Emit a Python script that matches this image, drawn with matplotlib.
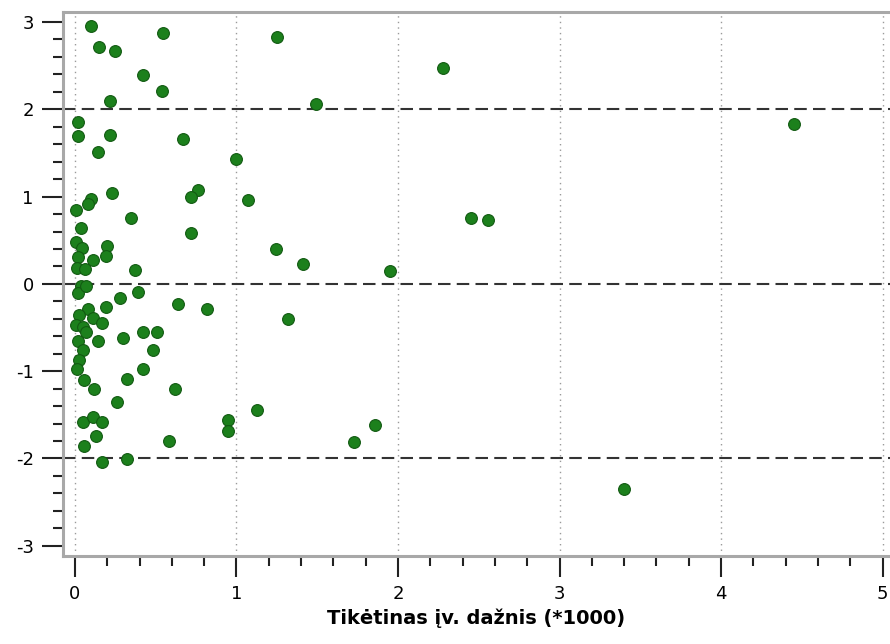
import numpy as np
import matplotlib
matplotlib.use('Agg')
import matplotlib.pyplot as plt
from matplotlib.ticker import MultipleLocator

plt.rcParams['axes.unicode_minus'] = False

# Expected frequency (*1000) and residual values
freq = [0.10, 0.15, 0.25, 0.547, 1.25, 0.42, 0.54, 0.22, 2.28, 1.49,
        0.02, 0.017, 0.22, 0.14, 0.67, 4.45, 1.00,
        0.23, 0.097, 0.083, 0.004, 0.76, 0.72, 1.07, 0.345, 2.45,
        2.56, 0.72, 0.035, 0.004, 0.045, 0.20, 0.19, 0.02, 0.11,
        0.01, 0.06, 0.37, 1.245, 1.41, 1.95,
        0.04, 0.017, 0.07, 0.39, 0.28, 0.19, 0.08, 0.636, 0.815, 1.32,
        0.027, 0.11, 0.165, 0.004, 0.05, 0.07, 0.02, 0.145, 0.295, 0.42,
        0.51, 0.485, 0.048, 0.027, 0.014, 0.42, 0.058, 0.32, 0.12, 0.62,
        0.26, 1.125, 0.05, 0.11, 0.17, 0.95, 0.95, 0.13, 0.58, 0.058,
        1.73, 1.86, 0.165, 0.32, 3.40]
resid = [2.95, 2.71, 2.67, 2.87, 2.83, 2.39, 2.21, 2.09, 2.47, 2.06,
         1.85, 1.69, 1.70, 1.51, 1.66, 1.83, 1.43,
         1.04, 0.97, 0.92, 0.85, 1.08, 1.00, 0.96, 0.75, 0.76,
         0.73, 0.58, 0.645, 0.48, 0.41, 0.435, 0.32, 0.31, 0.275,
         0.18, 0.17, 0.16, 0.40, 0.23, 0.15,
         -0.03, -0.10, -0.02, -0.09, -0.16, -0.26, -0.29, -0.23, -0.29, -0.40,
         -0.355, -0.39, -0.45, -0.47, -0.49, -0.55, -0.65, -0.66, -0.62, -0.55,
         -0.55, -0.76, -0.76, -0.87, -0.97, -0.97, -1.10, -1.09, -1.21, -1.21,
         -1.35, -1.45, -1.58, -1.53, -1.58, -1.56, -1.69, -1.74, -1.80, -1.86,
         -1.81, -1.62, -2.04, -2.01, -2.35]

x_ticks = [0, 1, 2, 3, 4, 5]
y_ticks = [-3, -2, -1, 0, 1, 2, 3]
ref_lines = [-2, 0, 2]

fig = plt.figure(figsize=(8.9, 6.44), dpi=100)
ax = fig.add_axes([0.0708, 0.1366, 0.9292, 0.8448])

for xv in x_ticks:
    ax.axvline(xv, color='#9a9a9a', linestyle=(0, (1, 3)), linewidth=1.0, zorder=1)
for yv in ref_lines:
    ax.axhline(yv, color='#333333', linestyle=(0, (6, 3)), linewidth=1.5, zorder=2)

ax.scatter(freq, resid, s=72, color='#1c801c', edgecolors='#125a12',
           linewidths=0.8, zorder=3)

ax.set_xlim(-0.074, 5.046)
ax.set_ylim(-3.118, 3.115)
ax.set_xticks(x_ticks)
ax.set_yticks(y_ticks)
ax.xaxis.set_minor_locator(MultipleLocator(0.2))
ax.yaxis.set_minor_locator(MultipleLocator(0.2))

ax.tick_params(which='major', direction='out', length=15, width=1.5,
               color='#222222', labelsize=13, pad=6)
ax.tick_params(which='minor', direction='out', length=7, width=1.5,
               color='#222222')
ax.tick_params(axis='y', which='both', right=False)
ax.tick_params(axis='x', which='both', top=False)

for side in ['left', 'bottom', 'top']:
    ax.spines[side].set_color('#a8a8a8')
    ax.spines[side].set_linewidth(2.2)
ax.spines['right'].set_visible(False)

ax.set_xlabel('Tikėtinas įv. dažnis (*1000)', fontsize=14, fontweight='bold',
              labelpad=4)

plt.savefig('out.png', dpi=100)
